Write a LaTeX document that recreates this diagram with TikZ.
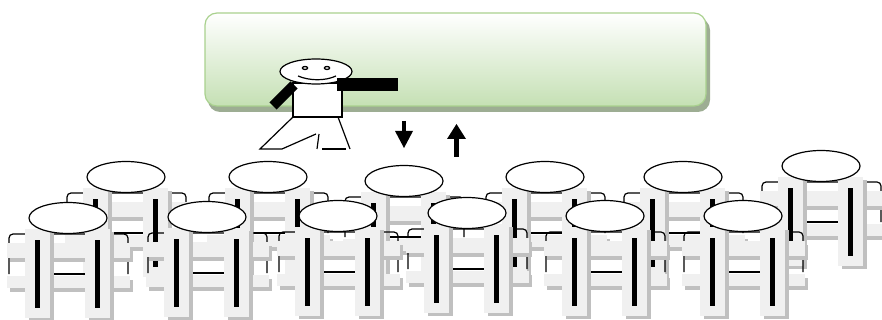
\documentclass[tikz,border=0pt]{standalone}
\begin{document}
\definecolor{panel}{HTML}{F0F0F0}
\definecolor{panelshade}{HTML}{C0C0C0}
\definecolor{boxline}{HTML}{A9D18E}
\definecolor{boxfill}{HTML}{C5E0B4}
\definecolor{boxshade}{HTML}{9DAD93}
\begin{tikzpicture}[x=1pt,y=-1pt,
  outline/.style={draw=black,line width=1.2pt},
  band/.style={fill=panel},
  bandshade/.style={fill=panelshade},
  % one pupil seen from behind, sitting at a desk
  pupil/.pic={
    \draw[outline,rounded corners=4pt] (-59,56) -- (-59,16) -- (60,16) -- (60,56);
    \fill[bandshade] (-58,29) rectangle (65,44);
    \fill[band] (-61,25) rectangle (62,40);
    \fill[bandshade] (-58,62) rectangle (65,74);
    \fill[band] (-61,58) rectangle (62,70);
    \draw[outline] (-18,56) -- (17,56);
    \fill[bandshade] (-39,14) rectangle (-14,103);
    \fill[band] (-43,11) rectangle (-18,100);
    \fill[bandshade] (21,14) rectangle (46,103);
    \fill[band] (17,11) rectangle (42,100);
    \fill[black] (-33,22) rectangle (-28,90);
    \fill[black] (27,22) rectangle (32,90);
    \draw[outline,fill=white] (0,0) ellipse [x radius=39, y radius=15.5];
  }]
\useasboundingbox (0,0) rectangle (882,320);

% board
\fill[boxshade,rounded corners=12pt] (208,18) rectangle (710,112);
\draw[boxline,line width=1.2pt,rounded corners=12pt,top color=white,bottom color=boxfill]
  (205,13) rectangle (706,106);

% teacher
\draw[outline,fill=white] (293,83) rectangle (342,117);
\draw[outline,fill=white] (316,71.5) ellipse [x radius=36, y radius=12.5];
\draw[line width=1.3pt] (305,68) ellipse [x radius=2.6, y radius=1.5];
\draw[line width=1.3pt] (327,68) ellipse [x radius=2.6, y radius=1.5];
\draw[line width=1.2pt] (298,76) .. controls (310,81) and (325,81) .. (336,76);
\draw[line width=10pt] (273,106) -- (294,85);
\fill[black] (337,78) rectangle (398,91);
\draw[outline] (293,117) -- (260,149) -- (282,149) -- (316,134);
\draw[outline] (319,134) -- (317,149);
\draw[outline] (322,149) -- (346,149);
\draw[outline] (338,117) -- (350,149);

% arrows
\coordinate (dn-top) at (404,121);
\coordinate (dn-base) at (404,131);
\coordinate (up-base) at (456.5,139);
\coordinate (up-end) at (456.5,157);
\draw[line width=4pt] (dn-top) -- (dn-base);
\fill[black] ([xshift=-9pt]dn-base) -- ([xshift=9pt]dn-base) -- ([yshift=-17pt]dn-base) -- cycle;
\draw[line width=4.5pt] (up-base) -- (up-end);
\fill[black] ([xshift=-9.5pt]up-base) -- ([xshift=9.5pt]up-base) -- ([yshift=15pt]up-base) -- cycle;

% back row
\foreach \cx/\cy in {126/177,268/177,404/181,545/177,683/177,821/166}
  \pic at (\cx,\cy) {pupil};
% front row
\foreach \cx/\cy in {68/218,207/217,338/216,467/213,605/216,743/216}
  \pic at (\cx,\cy) {pupil};
\end{tikzpicture}
\end{document}
